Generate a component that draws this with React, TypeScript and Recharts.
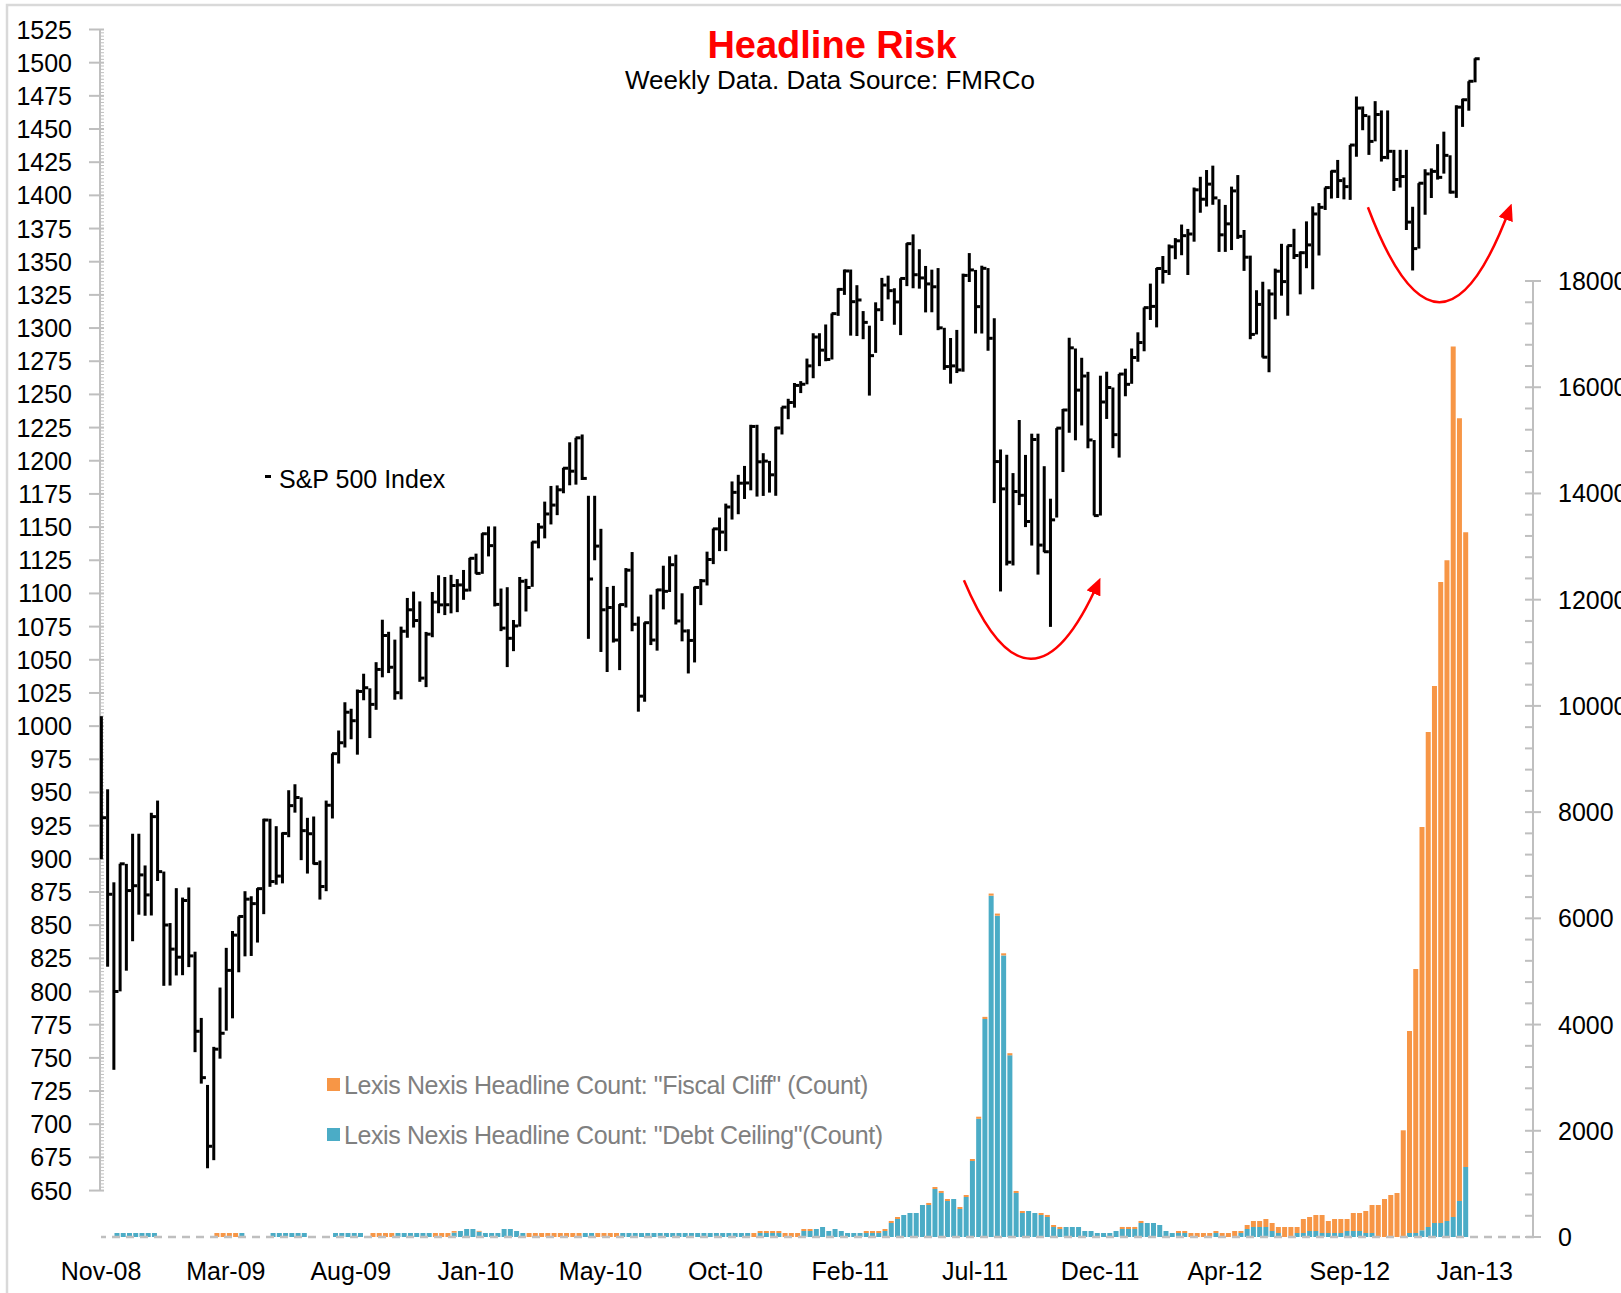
import React from "react";
import { Bar, ComposedChart, ReferenceLine, Scatter, XAxis, YAxis } from "recharts";

// weekly S&P 500 bars, week 0 = 7 Nov 2008 ... week 220 = 25 Jan 2013
const highs: number[] = [
  1007.5, 952.4, 882.3, 896.3, 896.2, 918.9, 918.9, 895.0, 934.7, 943.9,
  890.4, 851.6, 877.9, 870.8, 878.4, 830.0, 780.1, 729.6, 758.3, 803.0,
  832.9, 845.6, 856.6, 875.6, 871.8, 877.9, 930.2, 930.2, 924.6, 919.9,
  951.7, 956.2, 946.3, 930.9, 931.9, 898.7, 943.9, 979.4, 996.7, 1018.0,
  1013.1, 1027.6, 1039.5, 1028.5, 1048.2, 1080.2, 1071.1, 1065.2, 1075.0, 1096.6,
  1101.4, 1094.0, 1071.0, 1101.1, 1113.7, 1112.4, 1114.0, 1110.8, 1117.7, 1126.8,
  1130.0, 1145.4, 1150.5, 1150.5, 1103.7, 1104.7, 1080.0, 1112.4, 1111.0, 1139.0,
  1153.0, 1169.2, 1181.0, 1181.4, 1194.7, 1213.9, 1217.3, 1219.8, 1173.6, 1173.6,
  1148.7, 1104.9, 1105.7, 1092.0, 1119.1, 1131.2, 1082.6, 1078.2, 1099.1, 1103.4,
  1120.9, 1128.0, 1129.2, 1100.1, 1073.0, 1105.1, 1110.9, 1131.5, 1148.9, 1157.2,
  1167.7, 1184.4, 1189.4, 1196.1, 1227.1, 1227.1, 1205.7, 1199.9, 1225.6, 1240.4,
  1246.7, 1258.6, 1260.0, 1277.0, 1296.1, 1296.1, 1302.7, 1311.0, 1330.0, 1344.1,
  1344.1, 1332.3, 1312.8, 1301.8, 1319.4, 1337.8, 1339.5, 1330.0, 1337.5, 1364.0,
  1370.6, 1359.4, 1346.8, 1344.0, 1345.2, 1300.2, 1292.5, 1298.6, 1341.0, 1356.5,
  1343.8, 1347.0, 1345.2, 1307.4, 1208.5, 1204.5, 1190.7, 1230.7, 1204.4, 1220.4,
  1220.4, 1195.9, 1171.4, 1224.6, 1239.0, 1292.7, 1284.6, 1277.6, 1267.0, 1215.6,
  1264.1, 1267.1, 1255.2, 1265.4, 1269.4, 1284.6, 1296.8, 1315.5, 1333.5, 1345.3,
  1354.3, 1363.0, 1367.8, 1378.0, 1374.7, 1405.9, 1414.0, 1419.1, 1422.4, 1397.1,
  1392.8, 1406.6, 1415.3, 1373.9, 1354.6, 1328.5, 1334.9, 1329.2, 1344.8, 1363.5,
  1362.2, 1374.8, 1357.7, 1380.4, 1391.7, 1394.2, 1405.9, 1418.7, 1426.7, 1413.5,
  1437.9, 1474.5, 1467.0, 1460.2, 1471.0, 1464.0, 1464.0, 1434.3, 1434.3, 1434.3,
  1391.4, 1409.2, 1419.7, 1420.3, 1438.6, 1448.0, 1430.2, 1467.9, 1472.8, 1486.0,
  1503.3,
];

const lows: number[] = [
  899.7, 818.7, 741.0, 800.1, 815.7, 837.9, 857.9, 857.1, 857.3, 883.3,
  804.3, 804.5, 812.1, 812.3, 818.4, 754.3, 730.6, 666.8, 672.9, 749.4,
  770.5, 779.8, 814.5, 826.5, 826.8, 836.9, 858.3, 878.9, 880.5, 881.5,
  916.3, 934.8, 899.0, 888.9, 895.8, 869.3, 875.6, 930.4, 971.8, 983.9,
  990.1, 978.5, 1019.5, 991.0, 1012.3, 1036.8, 1040.0, 1019.9, 1020.2, 1066.6,
  1074.3, 1033.4, 1029.4, 1067.0, 1085.1, 1083.7, 1085.0, 1085.9, 1095.2, 1101.5,
  1114.8, 1114.8, 1127.9, 1090.2, 1071.6, 1044.5, 1056.5, 1075.0, 1086.4, 1105.0,
  1134.0, 1141.5, 1152.0, 1159.0, 1175.5, 1181.5, 1182.0, 1185.5, 1065.8, 1125.0,
  1055.9, 1040.8, 1063.0, 1042.2, 1089.4, 1071.5, 1010.9, 1018.4, 1061.1, 1056.9,
  1088.0, 1101.1, 1076.6, 1063.9, 1039.7, 1048.0, 1091.2, 1106.0, 1122.1, 1131.9,
  1131.9, 1155.7, 1159.7, 1171.2, 1177.7, 1173.0, 1173.5, 1176.0, 1173.6, 1219.8,
  1231.3, 1240.0, 1251.0, 1257.6, 1262.2, 1271.3, 1275.0, 1276.3, 1309.2, 1325.0,
  1294.3, 1294.0, 1291.6, 1249.1, 1281.3, 1305.3, 1321.6, 1302.5, 1294.7, 1331.6,
  1330.0, 1329.7, 1311.8, 1311.9, 1298.4, 1268.5, 1258.1, 1266.1, 1267.1, 1334.7,
  1295.9, 1295.9, 1282.9, 1168.1, 1101.5, 1121.1, 1121.1, 1166.6, 1150.0, 1136.1,
  1114.2, 1131.1, 1074.8, 1157.2, 1191.5, 1221.1, 1215.4, 1226.6, 1209.4, 1158.7,
  1158.7, 1231.5, 1209.5, 1202.4, 1248.6, 1258.0, 1274.6, 1282.5, 1306.1, 1300.5,
  1333.5, 1340.0, 1351.9, 1354.9, 1340.0, 1365.1, 1386.9, 1391.6, 1392.9, 1357.4,
  1357.4, 1358.8, 1367.2, 1343.1, 1291.6, 1295.2, 1277.8, 1266.7, 1306.6, 1324.4,
  1309.3, 1352.0, 1325.4, 1345.1, 1329.2, 1354.7, 1389.0, 1397.6, 1398.0, 1397.0,
  1396.6, 1429.1, 1449.1, 1430.5, 1440.7, 1425.5, 1427.2, 1403.3, 1405.9, 1373.9,
  1343.4, 1359.9, 1385.4, 1398.0, 1411.9, 1416.4, 1401.4, 1398.1, 1451.6, 1463.8,
  1485.2,
];

const closes: number[] = [
  930.99, 873.29, 800.03, 896.24, 876.07, 879.73, 887.88, 872.8, 931.8, 890.35,
  850.12, 831.95, 825.88, 868.6, 826.84, 770.05, 735.09, 683.38, 756.55, 768.54,
  815.94, 842.5, 856.56, 869.6, 866.23, 877.52, 929.23, 882.88, 887.0, 919.14,
  940.09, 946.21, 921.23, 918.9, 896.42, 879.13, 940.38, 979.26, 987.48, 1010.48,
  1004.09, 1026.13, 1028.93, 1016.4, 1042.73, 1068.3, 1044.38, 1025.21, 1071.49, 1087.68,
  1079.6, 1036.19, 1069.3, 1093.48, 1091.38, 1091.49, 1105.98, 1106.41, 1102.47, 1126.48,
  1115.1, 1144.98, 1136.03, 1091.76, 1073.87, 1066.19, 1075.51, 1109.17, 1104.49, 1138.7,
  1149.99, 1159.9, 1166.59, 1178.1, 1194.37, 1192.13, 1217.28, 1186.69, 1110.88, 1135.68,
  1087.69, 1089.41, 1064.88, 1091.6, 1117.51, 1076.76, 1022.58, 1077.96, 1064.88, 1102.66,
  1101.6, 1121.64, 1079.25, 1071.69, 1064.59, 1104.51, 1109.55, 1125.59, 1148.67, 1146.24,
  1165.15, 1176.19, 1183.08, 1183.26, 1225.85, 1199.21, 1199.73, 1189.4, 1224.71, 1240.4,
  1243.91, 1256.77, 1257.64, 1271.5, 1293.24, 1283.35, 1276.34, 1310.87, 1329.15, 1343.01,
  1319.88, 1321.15, 1304.28, 1279.21, 1313.8, 1332.41, 1328.17, 1319.68, 1337.38, 1363.61,
  1340.2, 1337.77, 1333.27, 1331.1, 1300.16, 1270.98, 1271.5, 1268.45, 1339.67, 1343.8,
  1316.14, 1345.02, 1292.28, 1199.38, 1178.81, 1123.53, 1176.8, 1173.97, 1154.23, 1216.01,
  1136.43, 1131.42, 1155.46, 1224.58, 1238.25, 1285.09, 1253.23, 1263.85, 1215.65, 1158.67,
  1244.28, 1255.19, 1219.66, 1265.33, 1257.6, 1277.81, 1289.09, 1315.38, 1316.33, 1344.9,
  1342.64, 1361.23, 1365.74, 1369.63, 1370.87, 1404.17, 1397.11, 1408.47, 1398.08, 1370.26,
  1378.53, 1403.36, 1369.1, 1353.39, 1295.22, 1317.82, 1278.04, 1325.66, 1342.84, 1335.02,
  1362.16, 1354.68, 1356.78, 1362.66, 1385.97, 1390.99, 1405.87, 1418.16, 1411.13, 1406.58,
  1437.92, 1465.77, 1460.15, 1440.67, 1460.93, 1428.59, 1433.19, 1411.94, 1414.2, 1379.85,
  1359.88, 1409.15, 1416.18, 1418.07, 1413.58, 1430.15, 1402.43, 1466.47, 1472.05, 1485.98,
  1502.96,
];

// Lexis Nexis weekly headline counts
const debtCeiling: number[] = [
  0, 0, 75, 75, 75, 75, 75, 75, 75, 0,
  0, 0, 0, 0, 0, 0, 0, 0, 0, 0,
  0, 0, 75, 0, 0, 0, 0, 75, 75, 75,
  75, 75, 75, 0, 0, 0, 0, 75, 75, 75,
  75, 75, 0, 0, 0, 0, 0, 75, 75, 75,
  75, 75, 75, 0, 0, 0, 82, 113, 151, 151,
  100, 75, 75, 75, 151, 151, 113, 75, 0, 0,
  0, 0, 0, 0, 0, 0, 0, 75, 75, 0,
  0, 0, 0, 75, 75, 75, 75, 75, 75, 75,
  75, 75, 75, 75, 75, 75, 75, 75, 75, 75,
  75, 75, 75, 75, 0, 75, 75, 75, 75, 0,
  0, 0, 113, 113, 151, 188, 113, 151, 113, 75,
  75, 75, 75, 75, 75, 113, 264, 339, 414, 452,
  452, 603, 603, 904, 829, 678, 716, 527, 753, 1431,
  2225, 4105, 6427, 6050, 5302, 3421, 829, 452, 490, 452,
  414, 377, 188, 151, 188, 188, 188, 113, 113, 75,
  75, 75, 113, 151, 151, 151, 264, 264, 264, 226,
  113, 75, 75, 75, 0, 0, 0, 0, 75, 0,
  0, 0, 75, 151, 188, 188, 188, 113, 75, 0,
  0, 75, 75, 113, 113, 75, 75, 75, 75, 113,
  113, 113, 75, 75, 0, 0, 0, 0, 0, 75,
  75, 126, 188, 264, 264, 301, 377, 678, 1318, 0,
  0,
];

const fiscalCliff: number[] = [
  0, 0, 0, 0, 0, 0, 0, 0, 0, 0,
  0, 0, 0, 0, 0, 0, 0, 0, 75, 75,
  75, 75, 0, 0, 0, 0, 0, 0, 0, 0,
  0, 0, 0, 0, 0, 0, 0, 0, 0, 0,
  0, 0, 0, 75, 75, 75, 75, 0, 0, 0,
  0, 0, 0, 75, 75, 75, 30, 0, 0, 0,
  15, 0, 0, 0, 0, 0, 0, 0, 75, 75,
  75, 75, 75, 75, 75, 75, 75, 0, 0, 75,
  75, 75, 75, 0, 0, 0, 0, 0, 0, 0,
  0, 0, 0, 0, 0, 0, 0, 0, 0, 0,
  0, 0, 0, 0, 75, 38, 38, 38, 38, 75,
  75, 75, 38, 38, 0, 0, 0, 0, 0, 0,
  0, 0, 38, 38, 38, 38, 38, 38, 0, 0,
  0, 0, 38, 38, 38, 38, 0, 38, 38, 38,
  40, 40, 40, 40, 40, 40, 38, 38, 0, 0,
  38, 38, 38, 38, 0, 0, 0, 0, 0, 0,
  0, 0, 0, 38, 38, 38, 38, 0, 0, 0,
  0, 0, 38, 38, 75, 75, 75, 75, 38, 75,
  75, 113, 38, 75, 113, 113, 151, 151, 113, 188,
  188, 113, 264, 264, 301, 339, 226, 264, 264, 226,
  339, 339, 415, 528, 603, 716, 791, 829, 2009, 3804,
  4972, 7596, 9322, 10113, 12071, 12443, 16389, 14740, 11953, 0,
  0,
];

const dateTickWeeks = [0, 20, 40, 60, 80, 100, 120, 140, 160, 180, 200, 220];
const dateTickLabels = ["Nov-08", "Mar-09", "Aug-09", "Jan-10", "May-10", "Oct-10", "Feb-11", "Jul-11", "Dec-11", "Apr-12", "Sep-12", "Jan-13"];
const priceTicks = [
  650, 675, 700, 725, 750, 775, 800, 825, 850, 875, 900, 925, 950, 975, 1000, 1025, 1050, 1075,
  1100, 1125, 1150, 1175, 1200, 1225, 1250, 1275, 1300, 1325, 1350, 1375, 1400, 1425, 1450, 1475, 1500, 1525,
];
const countTicks = [0, 2000, 4000, 6000, 8000, 10000, 12000, 14000, 16000, 18000];

// hand-drawn red "dip" arrows, in (week, index level)
const dipArrows = [
  { from: [138.2, 1110], bend: [148.8, 992], to: [159.8, 1109] },
  { from: [202.9, 1391], bend: [214.4, 1248], to: [225.7, 1391] },
];

const W = 1621;
const H = 1293;
const PLOT = { left: 101, right: 1534, top: 29.5, bottom: 1237 };
const WEEK_MAX = 229.5;
const PRICE_MIN = 615;
const PRICE_MAX = 1525;
const COUNT_MAX = 22736;
const PX_WEEK = (PLOT.right - PLOT.left) / WEEK_MAX;
const PX_PT = (PLOT.bottom - PLOT.top) / (PRICE_MAX - PRICE_MIN);
const PX_CNT = (PLOT.bottom - PLOT.top) / COUNT_MAX;

const FONT = '"Liberation Sans", Arial, sans-serif';
const AXIS_GREY = "#BFBFBF";
const TEAL = "#4BACC6";
const ORANGE = "#F79646";

const rows = closes.map((c, i) => ({
  i,
  high: highs[i],
  low: lows[i],
  close: c,
  debt: debtCeiling[i],
  cliff: fiscalCliff[i],
}));

const wx = (w: number) => PLOT.left + w * PX_WEEK;
const vy = (v: number) => PLOT.top + (PRICE_MAX - v) * PX_PT;
const cy = (n: number) => PLOT.bottom - n * PX_CNT;

// axis rulers are painted under the chart so the first price bar sits on top of the axis line
function AxisRulers() {
  const pStep = 25 * PX_PT;
  const cStep = 2000 * PX_CNT;
  const pMinor = [1, 2, 3, 4, 5, 6, 7, 8, 9];
  const cMinor = [1, 2, 3, 4];
  return (
    <svg width={W} height={H} style={{ position: "absolute", left: 0, top: 0 }}>
      {priceTicks.map((v) => (
        <g key={v}>
          <line x1={89} x2={104} y1={vy(v)} y2={vy(v)} stroke={AXIS_GREY} strokeWidth={2} />
          {v < PRICE_MAX && (
            <g>
              <line x1={100} x2={100} y1={vy(v)} y2={vy(v) - pStep} stroke={AXIS_GREY} strokeWidth={2} />
              {pMinor.map((k) => (
                <line key={k} x1={100} x2={104} y1={vy(v) - (k * pStep) / 10} y2={vy(v) - (k * pStep) / 10} stroke={AXIS_GREY} strokeWidth={1} />
              ))}
            </g>
          )}
        </g>
      ))}
      {countTicks.map((n) => (
        <g key={n}>
          <line x1={1525} x2={1541} y1={cy(n)} y2={cy(n)} stroke={AXIS_GREY} strokeWidth={2} />
          {n < 18000 && (
            <g>
              <line x1={1533} x2={1533} y1={cy(n)} y2={cy(n) - cStep} stroke={AXIS_GREY} strokeWidth={2} />
              {cMinor.map((k) => (
                <line key={k} x1={1525} x2={1533} y1={cy(n) - (k * cStep) / 5} y2={cy(n) - (k * cStep) / 5} stroke={AXIS_GREY} strokeWidth={2} />
              ))}
            </g>
          )}
        </g>
      ))}
    </svg>
  );
}

function PriceTick(props: any) {
  const { y, payload } = props;
  return (
    <text x={72} y={y} dy={9} textAnchor="end" fontSize={25} fontFamily={FONT} fill="#000">
      {payload.value}
    </text>
  );
}

function CountTick(props: any) {
  const { y, payload } = props;
  return (
    <text x={1558} y={y} dy={9} textAnchor="start" fontSize={25} fontFamily={FONT} fill="#000">
      {payload.value}
    </text>
  );
}

function DateTick(props: any) {
  const { x, payload } = props;
  const label = dateTickLabels[dateTickWeeks.indexOf(payload.value)];
  return (
    <text x={x} y={1280} textAnchor="middle" fontSize={25} fontFamily={FONT} fill="#000">
      {label}
    </text>
  );
}

function HighLowBar(props: any) {
  const { x, y, width, height } = props;
  const top = Math.min(y, y + height);
  return <rect x={x + width / 2 - 1.5} y={top} width={3} height={Math.max(Math.abs(height), 1)} fill="#000" />;
}

function CloseTick(props: any) {
  const { cx, cy } = props;
  return <rect x={cx} y={cy - 1.5} width={5} height={3} fill="#000" />;
}

export default function App() {
  return (
    <div style={{ position: "absolute", left: 0, top: 0, width: W, height: H, overflow: "hidden", background: "#fff" }}>
      <AxisRulers />
      <ComposedChart width={W} height={H} data={rows} margin={{ top: PLOT.top, right: 0, bottom: 0, left: 0 }}>
        <XAxis
          xAxisId="price"
          dataKey="i"
          type="number"
          domain={[0, WEEK_MAX]}
          ticks={dateTickWeeks}
          interval={0}
          height={H - PLOT.bottom}
          axisLine={false}
          tickLine={false}
          tick={(p: any) => <DateTick {...p} />}
        />
        <XAxis xAxisId="bars" dataKey="i" type="number" domain={[-0.5, WEEK_MAX - 0.5]} hide />
        <YAxis
          yAxisId="left"
          domain={[PRICE_MIN, PRICE_MAX]}
          ticks={priceTicks}
          interval={0}
          width={PLOT.left}
          axisLine={false}
          tickLine={false}
          tick={(p: any) => <PriceTick {...p} />}
        />
        <YAxis
          yAxisId="right"
          orientation="right"
          domain={[0, COUNT_MAX]}
          ticks={countTicks}
          interval={0}
          width={W - PLOT.right}
          axisLine={false}
          tickLine={false}
          tick={(p: any) => <CountTick {...p} />}
        />
        <Bar xAxisId="bars" yAxisId="right" dataKey="debt" stackId="n" fill={TEAL} barSize={5} isAnimationActive={false} />
        <Bar xAxisId="bars" yAxisId="right" dataKey="cliff" stackId="n" fill={ORANGE} barSize={5} isAnimationActive={false} />
        <ReferenceLine xAxisId="price" yAxisId="right" y={0} stroke={AXIS_GREY} strokeWidth={2.5} strokeDasharray="8 6" />
        <Bar
          xAxisId="price"
          yAxisId="left"
          dataKey={(d: any) => [d.low, d.high]}
          barSize={3}
          fill="#000"
          shape={(p: any) => <HighLowBar {...p} />}
          isAnimationActive={false}
        />
        <Scatter xAxisId="price" yAxisId="left" dataKey="close" shape={(p: any) => <CloseTick {...p} />} isAnimationActive={false} />
      </ComposedChart>

      <svg width={W} height={H} style={{ position: "absolute", left: 0, top: 0, pointerEvents: "none" }}>
        <defs>
          <marker id="head" markerUnits="userSpaceOnUse" markerWidth={17} markerHeight={15} refX={13} refY={7.5} orient="auto">
            <path d="M0,0 L17,7.5 L0,15 z" fill="#FF0000" />
          </marker>
        </defs>
        <rect x={7} y={5} width={1700} height={1400} fill="none" stroke="#D9D9D9" strokeWidth={2.5} />
        <text x={832} y={58} textAnchor="middle" fontSize={38} fontWeight="bold" fontFamily={FONT} fill="#FF0000">
          Headline Risk
        </text>
        <text x={830} y={89} textAnchor="middle" fontSize={26} fontFamily={FONT} fill="#000">
          Weekly Data. Data Source: FMRCo
        </text>
        <rect x={265} y={475} width={6} height={3} fill="#000" />
        <text x={279} y={488} fontSize={25} fontFamily={FONT} fill="#000">
          S&amp;P 500 Index
        </text>
        <rect x={327} y={1078} width={13} height={13} fill={ORANGE} />
        <text x={344} y={1094} fontSize={25} letterSpacing={-0.4} fontFamily={FONT} fill="#808080">
          Lexis Nexis Headline Count: "Fiscal Cliff" (Count)
        </text>
        <rect x={327} y={1128} width={13} height={13} fill={TEAL} />
        <text x={344} y={1144} fontSize={25} letterSpacing={-0.4} fontFamily={FONT} fill="#808080">
          Lexis Nexis Headline Count: "Debt Ceiling"(Count)
        </text>
        {dipArrows.map((a, k) => (
          <path
            key={k}
            d={`M${wx(a.from[0])},${vy(a.from[1])} Q${wx(a.bend[0])},${vy(a.bend[1])} ${wx(a.to[0])},${vy(a.to[1])}`}
            fill="none"
            stroke="#FF0000"
            strokeWidth={2.5}
            markerEnd="url(#head)"
          />
        ))}
      </svg>
    </div>
  );
}
